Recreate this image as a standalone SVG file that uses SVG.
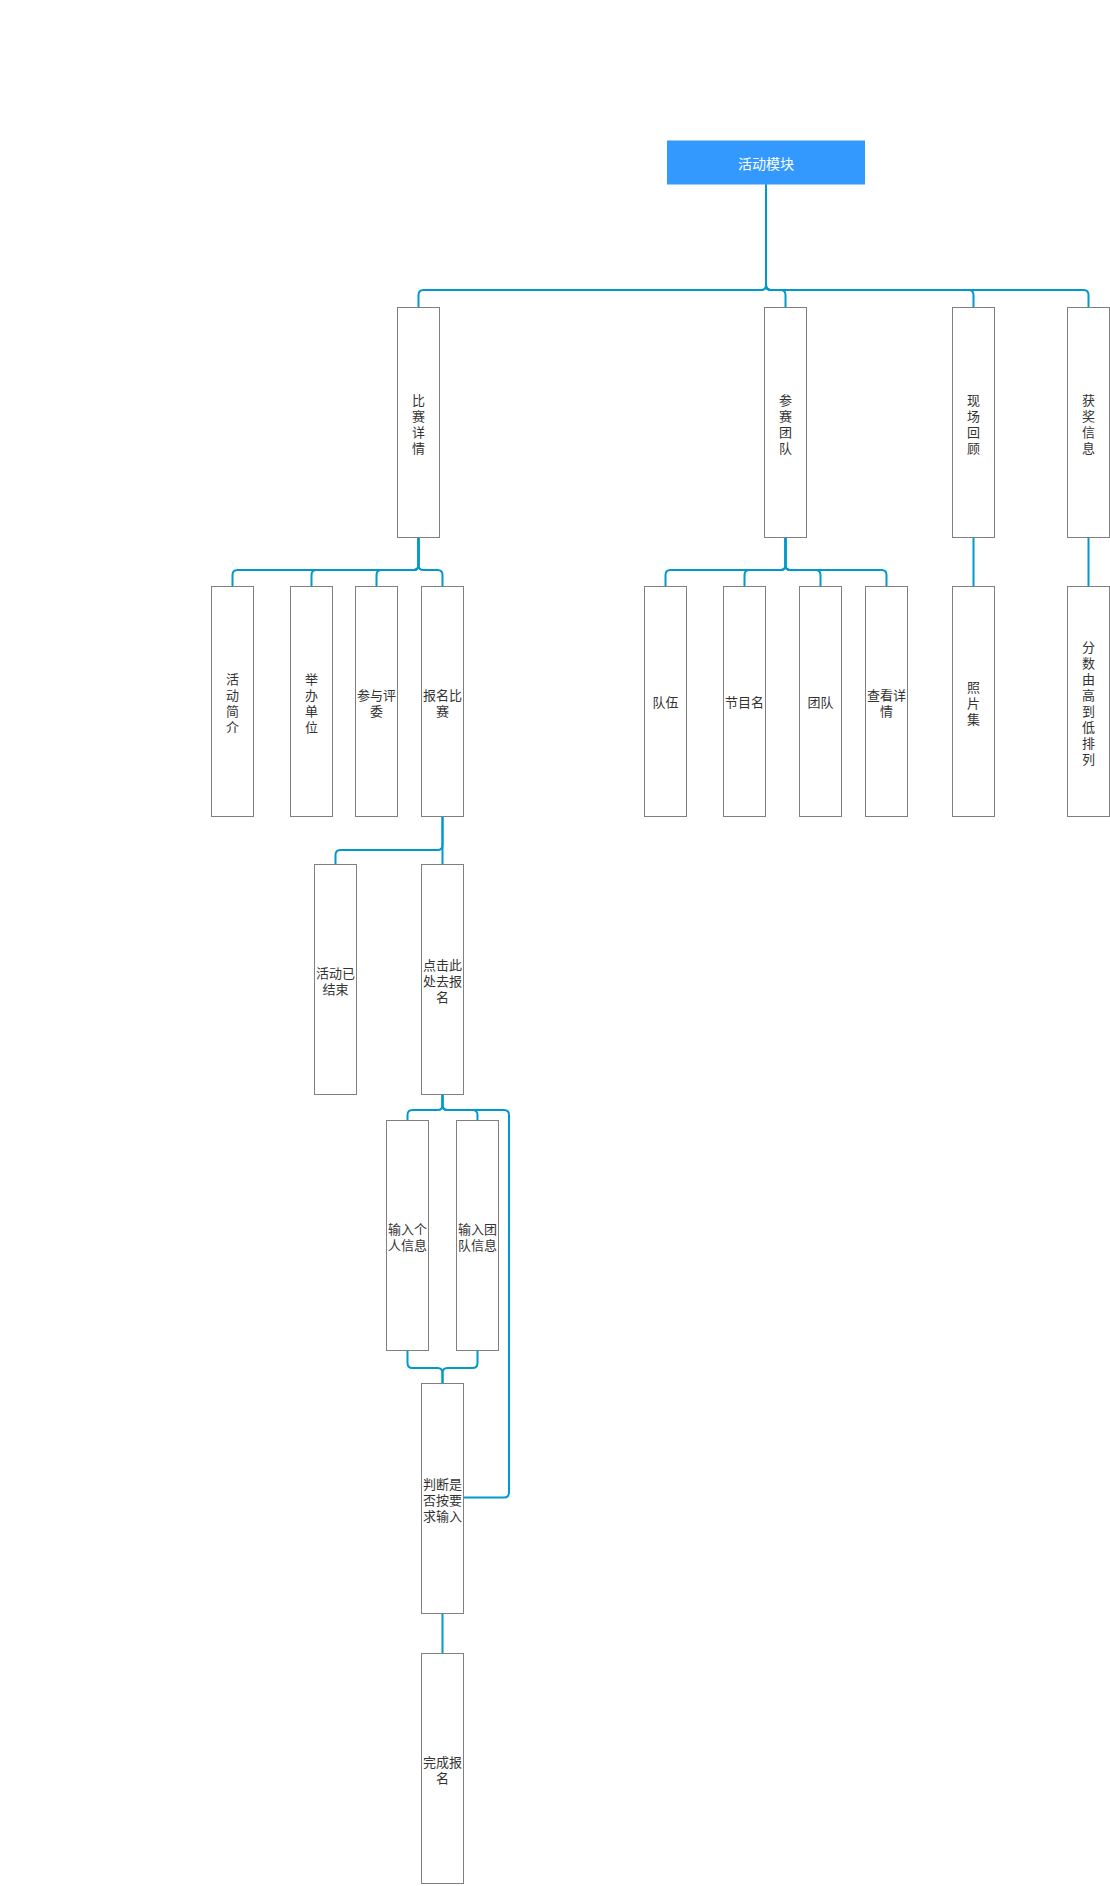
<svg xmlns="http://www.w3.org/2000/svg" width="1110" height="1886" viewBox="0 0 1110 1886">
<style>
.box{fill:#ffffff;stroke:#808080;stroke-width:1}
.t{font-family:"Noto Sans CJK SC","Liberation Sans",sans-serif;font-size:13px;fill:#333333;text-anchor:middle;dominant-baseline:central}
.root{fill:#3399ff;stroke:none}
.rt{font-family:"Noto Sans CJK SC","Liberation Sans",sans-serif;font-size:14px;fill:#ffffff;text-anchor:middle;dominant-baseline:central}
.c{fill:none;stroke:#0099cc;stroke-width:2}
</style>
<rect width="1110" height="1886" fill="#ffffff"/>
<g id="connectors">
<path class="c" d="M766 184.5 V285 Q766 290 761 290 H423.5 Q418.5 290 418.5 295 V307.5"/>
<path class="c" d="M766 184.5 V285 Q766 290 771 290 H780.5 Q785.5 290 785.5 295 V307.5"/>
<path class="c" d="M766 184.5 V285 Q766 290 771 290 H968.5 Q973.5 290 973.5 295 V307.5"/>
<path class="c" d="M766 184.5 V285 Q766 290 771 290 H1083.5 Q1088.5 290 1088.5 295 V307.5"/>
<path class="c" d="M418.5 537.5 V565 Q418.5 570 413.5 570 H237.5 Q232.5 570 232.5 575 V586.5"/>
<path class="c" d="M418.5 537.5 V565 Q418.5 570 413.5 570 H316.5 Q311.5 570 311.5 575 V586.5"/>
<path class="c" d="M418.5 537.5 V565 Q418.5 570 413.5 570 H381.5 Q376.5 570 376.5 575 V586.5"/>
<path class="c" d="M418.5 537.5 V565 Q418.5 570 423.5 570 H437.5 Q442.5 570 442.5 575 V586.5"/>
<path class="c" d="M785.5 537.5 V565 Q785.5 570 780.5 570 H670.5 Q665.5 570 665.5 575 V586.5"/>
<path class="c" d="M785.5 537.5 V565 Q785.5 570 780.5 570 H749.5 Q744.5 570 744.5 575 V586.5"/>
<path class="c" d="M785.5 537.5 V565 Q785.5 570 790.5 570 H815.5 Q820.5 570 820.5 575 V586.5"/>
<path class="c" d="M785.5 537.5 V565 Q785.5 570 790.5 570 H881.5 Q886.5 570 886.5 575 V586.5"/>
<path class="c" d="M973.5 537.5 V586.5"/>
<path class="c" d="M1088.5 537.5 V586.5"/>
<path class="c" d="M442.5 816.5 V845 Q442.5 850 437.5 850 H340.5 Q335.5 850 335.5 855 V864.5"/>
<path class="c" d="M442.5 816.5 V864.5"/>
<path class="c" d="M442.5 1094.5 V1105 Q442.5 1110 437.5 1110 H412.5 Q407.5 1110 407.5 1115 V1120.5"/>
<path class="c" d="M442.5 1094.5 V1105 Q442.5 1110 447.5 1110 H472.5 Q477.5 1110 477.5 1115 V1120.5"/>
<path class="c" d="M407.5 1350.5 V1363 Q407.5 1368 412.5 1368 H437.5 Q442.5 1368 442.5 1373 V1383.5"/>
<path class="c" d="M477.5 1350.5 V1363 Q477.5 1368 472.5 1368 H447.5 Q442.5 1368 442.5 1373 V1383.5"/>
<path class="c" d="M463.5 1497.5 H504 Q509 1497.5 509 1492.5 V1115 Q509 1110 504 1110 H447.5 Q442.5 1110 442.5 1105 V1094.5"/>
<path class="c" d="M442.5 1613.5 V1653.5"/>
</g>
<g id="root"><rect class="root" x="667" y="140.5" width="198" height="44"/><text class="rt" x="766" y="162.5">活动模块</text></g>
<g id="n-bisaixiangqing"><rect class="box" x="397.5" y="307.5" width="42" height="230"/><text class="t"><tspan x="418.5" y="398.5">比</tspan><tspan x="418.5" y="414.5">赛</tspan><tspan x="418.5" y="430.5">详</tspan><tspan x="418.5" y="446.5">情</tspan></text></g>
<g id="n-cansaituandui"><rect class="box" x="764.5" y="307.5" width="42" height="230"/><text class="t"><tspan x="785.5" y="398.5">参</tspan><tspan x="785.5" y="414.5">赛</tspan><tspan x="785.5" y="430.5">团</tspan><tspan x="785.5" y="446.5">队</tspan></text></g>
<g id="n-xianchanghuigu"><rect class="box" x="952.5" y="307.5" width="42" height="230"/><text class="t"><tspan x="973.5" y="398.5">现</tspan><tspan x="973.5" y="414.5">场</tspan><tspan x="973.5" y="430.5">回</tspan><tspan x="973.5" y="446.5">顾</tspan></text></g>
<g id="n-huojiangxinxi"><rect class="box" x="1067.5" y="307.5" width="42" height="230"/><text class="t"><tspan x="1088.5" y="398.5">获</tspan><tspan x="1088.5" y="414.5">奖</tspan><tspan x="1088.5" y="430.5">信</tspan><tspan x="1088.5" y="446.5">息</tspan></text></g>
<g id="n-huodongjianjie"><rect class="box" x="211.5" y="586.5" width="42" height="230"/><text class="t"><tspan x="232.5" y="677.5">活</tspan><tspan x="232.5" y="693.5">动</tspan><tspan x="232.5" y="709.5">简</tspan><tspan x="232.5" y="725.5">介</tspan></text></g>
<g id="n-jubandanwei"><rect class="box" x="290.5" y="586.5" width="42" height="230"/><text class="t"><tspan x="311.5" y="677.5">举</tspan><tspan x="311.5" y="693.5">办</tspan><tspan x="311.5" y="709.5">单</tspan><tspan x="311.5" y="725.5">位</tspan></text></g>
<g id="n-canyupingwei"><rect class="box" x="355.5" y="586.5" width="42" height="230"/><text class="t"><tspan x="376.5" y="693.5">参与评</tspan><tspan x="376.5" y="709.5">委</tspan></text></g>
<g id="n-baomingbisai"><rect class="box" x="421.5" y="586.5" width="42" height="230"/><text class="t"><tspan x="442.5" y="693.5">报名比</tspan><tspan x="442.5" y="709.5">赛</tspan></text></g>
<g id="n-duiwu"><rect class="box" x="644.5" y="586.5" width="42" height="230"/><text class="t" x="665.5" y="701.5">队伍</text></g>
<g id="n-jiemuming"><rect class="box" x="723.5" y="586.5" width="42" height="230"/><text class="t" x="744.5" y="701.5">节目名</text></g>
<g id="n-tuandui"><rect class="box" x="799.5" y="586.5" width="42" height="230"/><text class="t" x="820.5" y="701.5">团队</text></g>
<g id="n-chakanxiangqing"><rect class="box" x="865.5" y="586.5" width="42" height="230"/><text class="t"><tspan x="886.5" y="693.5">查看详</tspan><tspan x="886.5" y="709.5">情</tspan></text></g>
<g id="n-zhaopianji"><rect class="box" x="952.5" y="586.5" width="42" height="230"/><text class="t"><tspan x="973.5" y="685.5">照</tspan><tspan x="973.5" y="701.5">片</tspan><tspan x="973.5" y="717.5">集</tspan></text></g>
<g id="n-fenshu"><rect class="box" x="1067.5" y="586.5" width="42" height="230"/><text class="t"><tspan x="1088.5" y="645.5">分</tspan><tspan x="1088.5" y="661.5">数</tspan><tspan x="1088.5" y="677.5">由</tspan><tspan x="1088.5" y="693.5">高</tspan><tspan x="1088.5" y="709.5">到</tspan><tspan x="1088.5" y="725.5">低</tspan><tspan x="1088.5" y="741.5">排</tspan><tspan x="1088.5" y="757.5">列</tspan></text></g>
<g id="n-huodongyijieshu"><rect class="box" x="314.5" y="864.5" width="42" height="230"/><text class="t"><tspan x="335.5" y="971.5">活动已</tspan><tspan x="335.5" y="987.5">结束</tspan></text></g>
<g id="n-dianji"><rect class="box" x="421.5" y="864.5" width="42" height="230"/><text class="t"><tspan x="442.5" y="963.5">点击此</tspan><tspan x="442.5" y="979.5">处去报</tspan><tspan x="442.5" y="995.5">名</tspan></text></g>
<g id="n-gerenxinxi"><rect class="box" x="386.5" y="1120.5" width="42" height="230"/><text class="t"><tspan x="407.5" y="1227.5">输入个</tspan><tspan x="407.5" y="1243.5">人信息</tspan></text></g>
<g id="n-tuanduixinxi"><rect class="box" x="456.5" y="1120.5" width="42" height="230"/><text class="t"><tspan x="477.5" y="1227.5">输入团</tspan><tspan x="477.5" y="1243.5">队信息</tspan></text></g>
<g id="n-panduan"><rect class="box" x="421.5" y="1383.5" width="42" height="230"/><text class="t"><tspan x="442.5" y="1482.5">判断是</tspan><tspan x="442.5" y="1498.5">否按要</tspan><tspan x="442.5" y="1514.5">求输入</tspan></text></g>
<g id="n-wancheng"><rect class="box" x="421.5" y="1653.5" width="42" height="230"/><text class="t"><tspan x="442.5" y="1760.5">完成报</tspan><tspan x="442.5" y="1776.5">名</tspan></text></g>
</svg>
